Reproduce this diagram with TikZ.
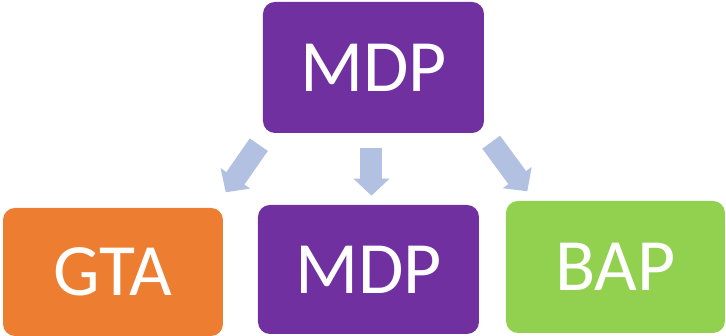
\documentclass[tikz,border=0pt]{standalone}
\usepackage{fontspec}
\setmainfont{Carlito}
\usepackage{tikz}
\usetikzlibrary{calc}
\usetikzlibrary{arrows.meta}
\definecolor{mdpviolet}{HTML}{7030A0}
\definecolor{gtaorange}{HTML}{ED7D31}
\definecolor{bapgreen}{HTML}{92D050}
\definecolor{arrowblue}{HTML}{B2C0E1}
\tikzstyle{box}=[rectangle,rounded corners=0.12cm,inner sep=0,minimum width=2.2cm,
                minimum height=1.3cm,text=white,font=\fontsize{21}{25}\selectfont]
\tikzstyle{flow}=[draw=arrowblue,line width=0.22cm,
                -{Triangle[width=0.35cm,length=0.17cm]}]
\begin{document}
\begin{tikzpicture}
\useasboundingbox (0,0) rectangle (7.26,3.36);
\node (top) at (3.735,2.685)[box,fill=mdpviolet,minimum width=2.21cm,minimum height=1.31cm] {MDP};
\node (gta) at (1.13,0.64)[box,fill=gtaorange,minimum height=1.28cm] {GTA};
\node (mdp) at (3.685,0.665)[box,fill=mdpviolet,minimum width=2.21cm,minimum height=1.29cm] {MDP};
\node (bap) at (6.155,0.69)[box,fill=bapgreen,minimum width=2.19cm,minimum height=1.32cm] {BAP};
\coordinate (l1) at ($(top.south west)+(-0.035,-0.11)$);
\coordinate (l2) at ($(gta.north east)+(0.02,0.15)$);
\coordinate (m1) at ($(top.south)+(-0.02,-0.14)$);
\coordinate (m2) at ($(top.south)+(-0.02,-0.62)$);
\coordinate (r1) at ($(top.south east)+(0.065,-0.085)$);
\coordinate (r2) at ($(bap.north west)+(0.22,0.09)$);
\draw[flow] (l1) -- (l2);
\draw[flow] (m1) -- (m2);
\draw[flow] (r1) -- (r2);
\end{tikzpicture}
\end{document}
